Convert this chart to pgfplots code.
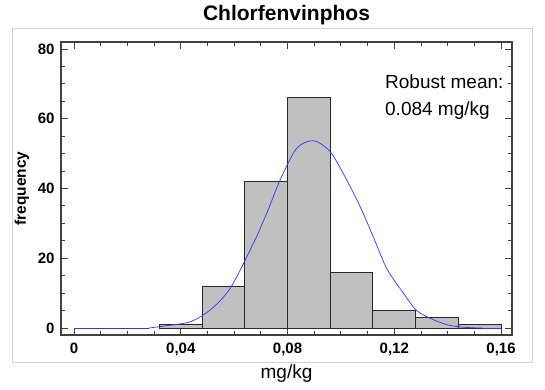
\documentclass[border=0pt]{standalone}
\usepackage{pgfplots}
\pgfplotsset{compat=1.18}
\usepackage{fontspec}
\setmainfont{Liberation Sans}
\definecolor{barfill}{RGB}{192,192,192}
\definecolor{baredge}{RGB}{40,40,40}
\definecolor{axgray}{RGB}{64,64,64}
\definecolor{curveblue}{RGB}{50,50,255}
\definecolor{framegray}{RGB}{210,210,210}
\begin{document}
\begin{tikzpicture}
\useasboundingbox (0pt,0pt) rectangle (545pt,389pt);
\draw[framegray, line width=0.8pt] (12pt,27pt) rectangle (532pt,361pt);
\begin{axis}[
  at={(61pt,54pt)}, anchor=south west,
  scale only axis, width=451pt, height=293pt,
  xmin=-0.0049, xmax=0.1641,
  ymin=-2, ymax=82,
  xtick={0,0.04,0.08,0.12,0.16},
  xticklabels={0,{0,04},{0,08},{0,12},{0,16}},
  ytick={0,20,40,60,80},
  yticklabels={0,20,40,60,80},
  minor x tick num=3, minor y tick num=3,
  tick align=inside,
  major tick length=7pt, minor tick length=4pt,
  axis line style={axgray, line width=1.2pt},
  tick style={axgray, line width=0.9pt},
  /pgf/number format/assume math mode=true,
  ticklabel style={font=\fontsize{15}{15}\selectfont\bfseries, text=black},
  xticklabel style={yshift=-4pt},
  yticklabel style={xshift=-3pt},
  title={Chlorfenvinphos},
  title style={font=\fontsize{21}{21}\selectfont\bfseries, at={(axis description cs:0.5,1.0546)}, anchor=base},
  xlabel={mg/kg},
  xlabel style={font=\fontsize{19}{19}\selectfont, at={(axis description cs:0.5,-0.150)}, anchor=base},
  ylabel={frequency},
  ylabel style={font=\fontsize{15.5}{15.5}\selectfont\bfseries, at={(axis description cs:-0.0865,0.5)}, anchor=center},
  clip=false,
]
\addplot[ybar interval, fill=barfill, draw=baredge, line width=1pt] coordinates {
  (0.032,1) (0.048,12) (0.064,42) (0.080,66) (0.096,16) (0.112,5) (0.128,3) (0.144,1) (0.160,1)
};
\addplot[curveblue, line width=0.7pt] coordinates {
  (0,0) (0.028,0)
};
\addplot[curveblue, line width=0.7pt, smooth, tension=0.5] coordinates {
  (0.028,0) (0.034,0.6) (0.0435,1.8) (0.051,5.2) (0.0585,11.4) (0.0672,24.3)
  (0.0722,32.9) (0.0772,42.4) (0.0834,51.5) (0.0897,53.7) (0.0959,50.6) (0.1015,43.4)
  (0.1072,34.8) (0.1122,26.0) (0.1172,17.0) (0.1234,10.0) (0.1284,5.0) (0.1346,2.4)
  (0.140,0.9) (0.145,0.3) (0.150,0.05) (0.153,0)
};
\addplot[curveblue, line width=0.7pt] coordinates {
  (0.153,0) (0.160,0)
};
\node[anchor=base west, font=\fontsize{19}{19}\selectfont, inner sep=0pt] at (axis cs:0.1165,68.8) {Robust mean:};
\node[anchor=base west, font=\fontsize{19}{19}\selectfont, inner sep=0pt] at (axis cs:0.1165,60.8) {0.084 mg/kg};
\end{axis}
\end{tikzpicture}
\end{document}
